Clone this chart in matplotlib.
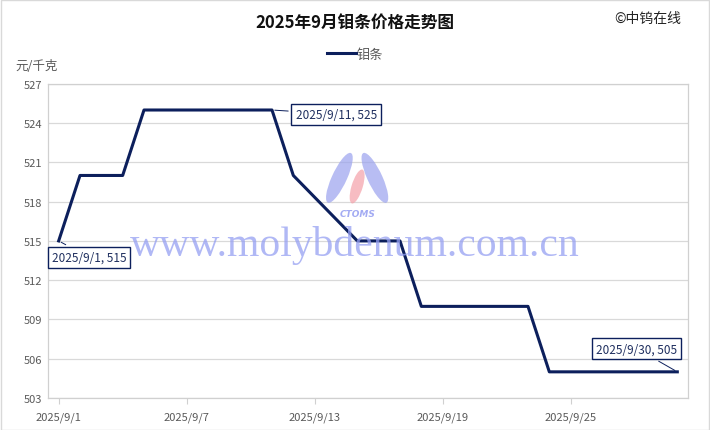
import matplotlib
matplotlib.use('Agg')
import matplotlib.pyplot as plt
import matplotlib.patches as mpatches
import pandas as pd

plt.rcParams['font.family'] = ['Noto Sans CJK SC', 'DejaVu Sans']

# price data (business days only)
dates = ['2025-09-01', '2025-09-02', '2025-09-03', '2025-09-04', '2025-09-05',
         '2025-09-08', '2025-09-09', '2025-09-10', '2025-09-11', '2025-09-12',
         '2025-09-15', '2025-09-16', '2025-09-17', '2025-09-18', '2025-09-19',
         '2025-09-22', '2025-09-23', '2025-09-24', '2025-09-25', '2025-09-26',
         '2025-09-29', '2025-09-30']
prices = [515, 520, 520, 520, 525,
          525, 525, 525, 525, 520,
          515, 515, 515, 510, 510,
          510, 510, 505, 505, 505,
          505, 505]
tick_dates = ['2025-09-01', '2025-09-07', '2025-09-13', '2025-09-19', '2025-09-25']
tick_labels = ['2025/9/1', '2025/9/7', '2025/9/13', '2025/9/19', '2025/9/25']
y_ticks = [503, 506, 509, 512, 515, 518, 521, 524, 527]

# callouts: (date, value, label)
callouts = [
    ('2025-09-01', 515, '2025/9/1, 515'),
    ('2025-09-11', 525, '2025/9/11, 525'),
    ('2025-09-30', 505, '2025/9/30, 505'),
]
# box offsets (points) and alignment for each callout
callout_pos = [((-5, -7), 'left', 'top'),
               ((17, -3), 'left', 'center'),
               ((0, 12), 'right', 'bottom')]

navy = '#0c1f5c'
x = pd.to_datetime(dates)

fig = plt.figure(figsize=(7.1, 4.31), dpi=100)
ax = fig.add_axes([0.0676, 0.0742, 0.9014, 0.729])

ax.plot(x, prices, color=navy, linewidth=2.2, label='钼条', zorder=5)

ax.set_xlim(pd.Timestamp('2025-09-01') - pd.Timedelta(hours=12),
            pd.Timestamp('2025-09-30') + pd.Timedelta(hours=12))
ax.set_ylim(503, 527)
ax.set_yticks(y_ticks)
ax.set_xticks(pd.to_datetime(tick_dates))
ax.set_xticklabels(tick_labels)
ax.tick_params(axis='both', labelsize=8, colors='#595959', length=0, pad=4)
ax.tick_params(axis='x', length=4, color='#d0d0d0', pad=6)
ax.grid(axis='y', color='#d9d9d9', linewidth=0.9)
ax.set_axisbelow(True)
for s in ax.spines.values():
    s.set_color('#d0d0d0')
    s.set_linewidth(0.9)

for (d, v, txt), (off, ha, va) in zip(callouts, callout_pos):
    ax.annotate(txt, xy=(pd.Timestamp(d), v), xytext=off, textcoords='offset points',
                fontsize=8.5, color='#1f2f5f', ha=ha, va=va,
                bbox=dict(boxstyle='square,pad=0.35', fc='white', ec=navy, lw=1),
                arrowprops=dict(arrowstyle='-', color=navy, lw=0.7), zorder=6)

# watermark
fig.text(0.5, 0.43, 'www.molybdenum.com.cn', family='Liberation Serif', fontsize=30,
         color='#96a0f2', alpha=0.75, ha='center', va='center', zorder=1)
fig.text(0.504, 0.502, 'CTOMS', fontsize=6.5, fontweight='bold', style='italic',
         color='#8c96f0', alpha=0.8, ha='center', va='center', family='DejaVu Sans')
logo = [
    mpatches.Ellipse((0.478, 0.585), 0.022, 0.12, angle=-15, transform=fig.transFigure,
                     fc='#9aa2ee', alpha=0.7, ec='none'),
    mpatches.Ellipse((0.503, 0.565), 0.016, 0.08, angle=-10, transform=fig.transFigure,
                     fc='#f4a0a8', alpha=0.7, ec='none'),
    mpatches.Ellipse((0.528, 0.585), 0.022, 0.12, angle=15, transform=fig.transFigure,
                     fc='#9aa2ee', alpha=0.7, ec='none'),
]
for p in logo:
    fig.patches.append(p)

fig.text(0.5, 0.948, '2025年9月钼条价格走势图', fontsize=12, fontweight='bold',
         ha='center', va='center', color='#111111')
fig.text(0.96, 0.955, '©中钨在线', fontsize=10, ha='right', va='center', color='#222222')
fig.text(0.022, 0.845, '元/千克', fontsize=9, ha='left', va='center', color='#595959')

fig.legend(loc='center', bbox_to_anchor=(0.5, 0.872), frameon=False,
           fontsize=9.5, handlelength=2.2, handletextpad=0.1, labelcolor='#595959')

fig.patches.append(mpatches.Rectangle((0.001, 0.001), 0.998, 0.997, transform=fig.transFigure,
                                      fill=False, ec='#d9d9d9', lw=1))

fig.savefig('out.png', dpi=100)
